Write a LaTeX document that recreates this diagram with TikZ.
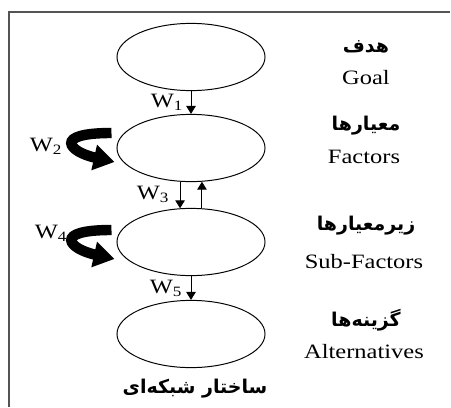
\documentclass[tikz,border=0pt]{standalone}
\usepackage{fontspec}
\setmainfont[FakeStretch=1.2]{Liberation Serif}
\newfontfamily\fafont[Script=Arabic]{DejaVu Sans}
\TeXXeTstate=1
\usepackage{xcolor}
\definecolor{frm}{rgb}{0.33,0.33,0.33}
\usepackage{tikz}
\usetikzlibrary{arrows.meta, shapes.geometric, calc}
\tikzset{
  level/.style = {draw, ellipse, line width=0.7pt, minimum width=3.7cm, minimum height=1.68cm, inner sep=0pt},
  lbl/.style = {font=\fontsize{14.5}{16}\selectfont, inner sep=0pt},
  fa/.style = {font=\fafont\bfseries\fontsize{13.5}{15}\selectfont, inner sep=0pt},
  wt/.style = {-{Triangle[length=0.2cm, width=0.24cm]}, line width=0.7pt},
  selfarrow/.style = {line width=0.26cm, -{Triangle[length=0.52cm, width=0.62cm]}}
}

\begin{document}
\begin{tikzpicture}[x=0.025cm, y=-0.025cm]
    \useasboundingbox (0,0) rectangle (451,407);
    % frame
    \draw[frm, line width=1.8pt] (450,12) -- (9,12) -- (9,407);

    % levels
    \node[level] (goal) at (191,57) {};
    \node[level] (fac) at (191,148) {};
    \node[level] (sub) at (191,242) {};
    \node[level] (alt) at (191,334) {};

    % names on the right
    \node[fa] (goalfa) at (366,47) {\beginR هدف\endR};
    \node[lbl] (goalen) at (366,78) {Goal};
    \node[fa] (facfa) at (366,126) {\beginR معیارها\endR};
    \node[lbl] (facen) at (364,157) {Factors};
    \node[fa] (subfa) at (366,226) {\beginR زیرمعیارها\endR};
    \node[lbl] (suben) at (364,262) {Sub-Factors};
    \node[fa] (altfa) at (366,320) {\beginR گزینه‌ها\endR};
    \node[lbl] (alten) at (364,352) {Alternatives};
    \node[fa] (net) at (195,389) {\beginR ساختار شبکه‌ای\endR};

    % weights between levels
    \draw[wt] (goal) -- (fac);
    \node[lbl] (w1) at (167,102) {W\textsubscript{1}};
    \draw[wt] (fac.-108) -- (sub.108);
    \draw[wt] (sub.72) -- (fac.-72);
    \node[lbl] (w3) at (153,194) {W\textsubscript{3}};
    \draw[wt] (sub) -- (alt);
    \node[lbl] (w5) at (166,288) {W\textsubscript{5}};

    % inner dependence
    \draw[selfarrow] ($(fac.west)+(-5,-15)$) .. controls +(-60,0) and +(-45,-10) .. ($(fac.west)+(-2,14)$);
    \node[lbl] (w2) at (46,146) {W\textsubscript{2}};
    \draw[selfarrow] ($(sub.west)+(-5,-12)$) .. controls +(-60,0) and +(-45,-10) .. ($(sub.west)+(-2,17)$);
    \node[lbl] (w4) at (51,233) {W\textsubscript{4}};
\end{tikzpicture}
\end{document}
